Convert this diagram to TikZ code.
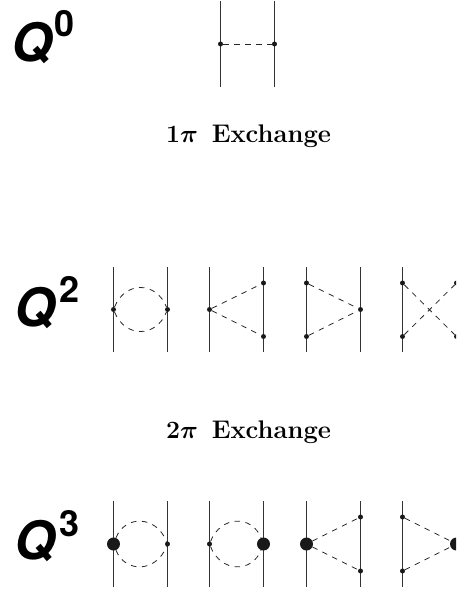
\documentclass[tikz,border=0pt]{standalone}
\usepackage{fontspec}
\newfontfamily\qfont{TeX Gyre Heros}
\tikzset{
  leg/.style={draw=black!80, line width=1pt},
  pion/.style={draw=black!85, line width=0.8pt, dash pattern=on 5.5pt off 5.5pt},
  dot/.style={circle, fill=black!90, inner sep=0pt, minimum size=5pt},
  bigdot/.style={circle, fill=black!90, inner sep=0pt, minimum size=13pt},
  order/.style={inner sep=0pt, font=\qfont\bfseries\itshape\fontsize{53}{53}\selectfont},
  power/.style={inner sep=0pt, font=\qfont\bfseries\fontsize{36}{36}\selectfont},
  title/.style={inner sep=0pt, font=\bfseries\boldmath\fontsize{25.5}{28}\selectfont}
}
\begin{document}
\begin{tikzpicture}[x=1pt,y=-1pt]
\clip (0,0) rectangle (456,590);
% labels
\node [order] (q0) at (32,42.5) {Q};
\node [power] (p0) at (65,24) {0};
\node [order] (q2) at (35.5,308) {Q};
\node [power] (p2) at (70,289.5) {2};
\node [order] (q3) at (35.5,541) {Q};
\node [power] (p3) at (70,524) {3};
\node [title] (one) at (248.5,136) {$1\pi$\, Exchange};
\node [title] (two) at (248.5,432) {$2\pi$\, Exchange};
% one pion
\coordinate (a1) at (220.5,1);
\coordinate (a2) at (220.5,87);
\coordinate (b1) at (274.5,1);
\coordinate (b2) at (274.5,87);
\draw [leg] (a1) -- (a2);
\draw [leg] (b1) -- (b2);
\node [dot] (av) at (220.5,44) {};
\node [dot] (bv) at (274.5,44) {};
\draw [pion] (av) -- (bv);
% two pion, bubble
\coordinate (c1) at (113.5,267);
\coordinate (c2) at (113.5,352);
\coordinate (d1) at (167.5,267);
\coordinate (d2) at (167.5,352);
\draw [leg] (c1) -- (c2);
\draw [leg] (d1) -- (d2);
\node [dot] (cv) at (113.5,309.5) {};
\node [dot] (dv) at (167.5,309.5) {};
\draw [pion] (cv) .. controls (125,281) and (156,281) .. (dv);
\draw [pion] (cv) .. controls (125,338) and (156,338) .. (dv);
% two pion, triangle
\coordinate (e1) at (209.5,267);
\coordinate (e2) at (209.5,352);
\coordinate (f1) at (263.5,267);
\coordinate (f2) at (263.5,352);
\draw [leg] (e1) -- (e2);
\draw [leg] (f1) -- (f2);
\node [dot] (ev) at (209.5,309.5) {};
\node [dot] (ft) at (263.5,283) {};
\node [dot] (fb) at (263.5,336.5) {};
\draw [pion] (ev) -- (ft);
\draw [pion] (ev) -- (fb);
% two pion, triangle mirrored
\coordinate (g1) at (306.5,267);
\coordinate (g2) at (306.5,352);
\coordinate (h1) at (360.5,267);
\coordinate (h2) at (360.5,352);
\draw [leg] (g1) -- (g2);
\draw [leg] (h1) -- (h2);
\node [dot] (gt) at (306.5,283) {};
\node [dot] (gb) at (306.5,336.5) {};
\node [dot] (hv) at (360.5,309.5) {};
\draw [pion] (gt) -- (hv);
\draw [pion] (gb) -- (hv);
% two pion, crossed
\coordinate (i1) at (402.5,267);
\coordinate (i2) at (402.5,352);
\draw [leg] (i1) -- (i2);
\node [dot] (it) at (402.5,283) {};
\node [dot] (ib) at (402.5,336.5) {};
\node [dot] (jt) at (456.5,283) {};
\node [dot] (jb) at (456.5,336.5) {};
\draw [pion] (it) -- (jb);
\draw [pion] (ib) -- (jt);
% order three, bubble left
\coordinate (k1) at (113.5,501);
\coordinate (k2) at (113.5,587);
\coordinate (l1) at (167.5,501);
\coordinate (l2) at (167.5,587);
\draw [leg] (k1) -- (k2);
\draw [leg] (l1) -- (l2);
\node [bigdot] (kv) at (113.5,544) {};
\node [dot] (lv) at (167.5,544) {};
\draw [pion] (kv) .. controls (125,515) and (156,515) .. (lv);
\draw [pion] (kv) .. controls (125,573) and (156,573) .. (lv);
% order three, bubble right
\coordinate (m1) at (209.5,501);
\coordinate (m2) at (209.5,587);
\coordinate (n1) at (263.5,501);
\coordinate (n2) at (263.5,587);
\draw [leg] (m1) -- (m2);
\draw [leg] (n1) -- (n2);
\node [dot] (mv) at (209.5,544) {};
\node [bigdot] (nv) at (263.5,544) {};
\draw [pion] (mv) .. controls (221,515) and (252,515) .. (nv);
\draw [pion] (mv) .. controls (221,573) and (252,573) .. (nv);
% order three, triangle
\coordinate (o1) at (306.5,501);
\coordinate (o2) at (306.5,587);
\coordinate (p1) at (360.5,501);
\coordinate (p2) at (360.5,587);
\draw [leg] (o1) -- (o2);
\draw [leg] (p1) -- (p2);
\node [bigdot] (ov) at (306.5,544) {};
\node [dot] (pt) at (360.5,517) {};
\node [dot] (pb) at (360.5,571) {};
\draw [pion] (ov) -- (pt);
\draw [pion] (ov) -- (pb);
% order three, triangle mirrored
\coordinate (r1) at (402.5,501);
\coordinate (r2) at (402.5,587);
\draw [leg] (r1) -- (r2);
\node [dot] (rt) at (402.5,517) {};
\node [dot] (rb) at (402.5,571) {};
\node [bigdot] (sv) at (456.5,544) {};
\draw [pion] (rt) -- (sv);
\draw [pion] (rb) -- (sv);
\end{tikzpicture}
\end{document}
